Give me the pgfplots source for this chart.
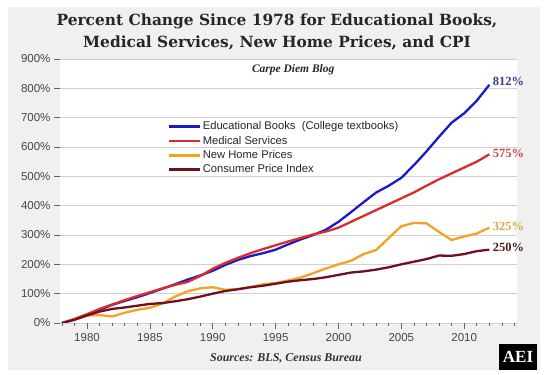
\documentclass[border=0pt]{standalone}
\usepackage{pgfplots}
\pgfplotsset{compat=1.18}
\usepackage{fontspec}
\setmainfont{Liberation Sans}
\newfontfamily\serif{Liberation Serif}
\newfontfamily\titlefont{DejaVu Serif}
\definecolor{bg}{HTML}{F0F0F0}
\definecolor{cblue}{HTML}{1A1AC8}
\definecolor{cred}{HTML}{DC2B2B}
\definecolor{corange}{HTML}{F5A123}
\definecolor{ccpi}{HTML}{6E1020}
\definecolor{lblue}{HTML}{3C3C8C}
\definecolor{lred}{HTML}{C24848}
\definecolor{lorange}{HTML}{D8A848}
\definecolor{lcpi}{HTML}{4A1C1C}
\begin{document}
\begin{tikzpicture}
\fill[white] (0pt,0pt) rectangle (555pt,375pt);
\fill[bg] (8pt,5pt) rectangle (540pt,368pt);
\node[font=\titlefont\bfseries\fontsize{15.4}{22.5}\selectfont, align=center, text=black!85] at (277pt,343pt) {Percent Change Since 1978 for Educational Books,\\Medical Services, New Home Prices, and CPI};
\begin{axis}[at={(60pt,52pt)}, anchor=south west, scale only axis,
  width=457pt, height=264pt,
  xmin=1977.85, xmax=2014.2, ymin=0, ymax=900,
  axis background/.style={fill=white},
  axis line style={draw=none},
  clip mode=individual,
  xtick={1980,1985,...,2010},
  xticklabels={1980,1985,1990,1995,2000,2005,2010},
  minor xtick={1978,...,2014},
  ytick={0,100,...,900},
  yticklabels={0\%,100\%,200\%,300\%,400\%,500\%,600\%,700\%,800\%,900\%},
  xtick pos=bottom, ytick pos=left,
  tick align=outside,
  major tick length=6pt, minor tick length=3pt,
  tick style={black!60, line width=0.6pt},
  ymajorgrids,
  major grid style={black!18, line width=0.8pt},
  ticklabel style={font=\fontsize{11.5}{12}\selectfont, text=black!72},
  yticklabel style={xshift=0pt},
  xticklabel style={yshift=-1pt},
  legend style={at={(0.232,0.775)}, anchor=north west, draw=none, fill=none,
    font=\fontsize{11.2}{13}\selectfont, text=black!85, row sep=0.8pt,
    inner sep=1pt},
  legend cell align=left,
  legend image code/.code={\draw[#1, line width=2.6pt] (0pt,0pt) -- (31pt,0pt);},
  every axis plot/.append style={line width=2.3pt, line join=round},
]
\addplot[cblue] coordinates {(1978,0)(1979,12)(1980,27)(1981,45)(1982,62)(1983,75)(1984,88)(1985,102)(1986,117)(1987,132)(1988,148)(1989,162)(1990,178)(1991,198)(1992,215)(1993,228)(1994,238)(1995,250)(1996,268)(1997,285)(1998,300)(1999,318)(2000,345)(2001,378)(2002,412)(2003,445)(2004,468)(2005,495)(2006,538)(2007,585)(2008,635)(2009,683)(2010,715)(2011,758)(2012,812)};
\addlegendentry{Educational Books\ \ (College textbooks)}
\addplot[cred] coordinates {(1978,0)(1979,14)(1980,30)(1981,48)(1982,63)(1983,78)(1984,92)(1985,105)(1986,118)(1987,130)(1988,140)(1989,160)(1990,185)(1991,205)(1992,222)(1993,238)(1994,252)(1995,265)(1996,278)(1997,290)(1998,302)(1999,312)(2000,325)(2001,345)(2002,365)(2003,385)(2004,405)(2005,425)(2006,445)(2007,468)(2008,490)(2009,510)(2010,530)(2011,550)(2012,575)};
\addlegendentry{Medical Services}
\addplot[corange] coordinates {(1978,0)(1979,12)(1980,25)(1981,27)(1982,22)(1983,35)(1984,45)(1985,52)(1986,66)(1987,90)(1988,108)(1989,118)(1990,122)(1991,113)(1992,116)(1993,122)(1994,132)(1995,136)(1996,145)(1997,155)(1998,170)(1999,186)(2000,200)(2001,212)(2002,235)(2003,249)(2004,290)(2005,330)(2006,341)(2007,340)(2008,310)(2009,283)(2010,295)(2011,305)(2012,325)};
\addlegendentry{New Home Prices}
\addplot[ccpi] coordinates {(1978,0)(1979,11)(1980,26)(1981,39)(1982,48)(1983,53)(1984,59)(1985,65)(1986,68)(1987,74)(1988,81)(1989,90)(1990,100)(1991,109)(1992,115)(1993,122)(1994,127)(1995,134)(1996,141)(1997,146)(1998,150)(1999,156)(2000,164)(2001,172)(2002,176)(2003,182)(2004,190)(2005,200)(2006,209)(2007,218)(2008,230)(2009,229)(2010,235)(2011,245)(2012,250)};
\addlegendentry{Consumer Price Index}
\node[anchor=west, font=\serif\bfseries\fontsize{12.5}{13}\selectfont, text=lblue] at (axis cs:2012,822) {812\%};
\node[anchor=west, font=\serif\bfseries\fontsize{12.5}{13}\selectfont, text=lred] at (axis cs:2012,578) {575\%};
\node[anchor=west, font=\serif\bfseries\fontsize{12.5}{13}\selectfont, text=lorange] at (axis cs:2012,330) {325\%};
\node[anchor=west, font=\serif\bfseries\fontsize{12.5}{13}\selectfont, text=lcpi] at (axis cs:2012,258) {250\%};
\node[font=\serif\bfseries\itshape\fontsize{11.5}{13}\selectfont, text=black!85] at (axis cs:1996.4,862) {Carpe Diem Blog};
\end{axis}
\node[font=\serif\bfseries\itshape\fontsize{12}{13}\selectfont, text=black!80] at (286pt,17pt) {Sources: BLS, Census Bureau};
\fill[black] (499pt,5pt) rectangle (537pt,31pt);
\node[font=\serif\bfseries\fontsize{17}{17}\selectfont, text=white] at (518pt,18pt) {AEI};
\pgfresetboundingbox
\path[use as bounding box] (0pt,0pt) rectangle (555pt,375pt);
\end{tikzpicture}
\end{document}
